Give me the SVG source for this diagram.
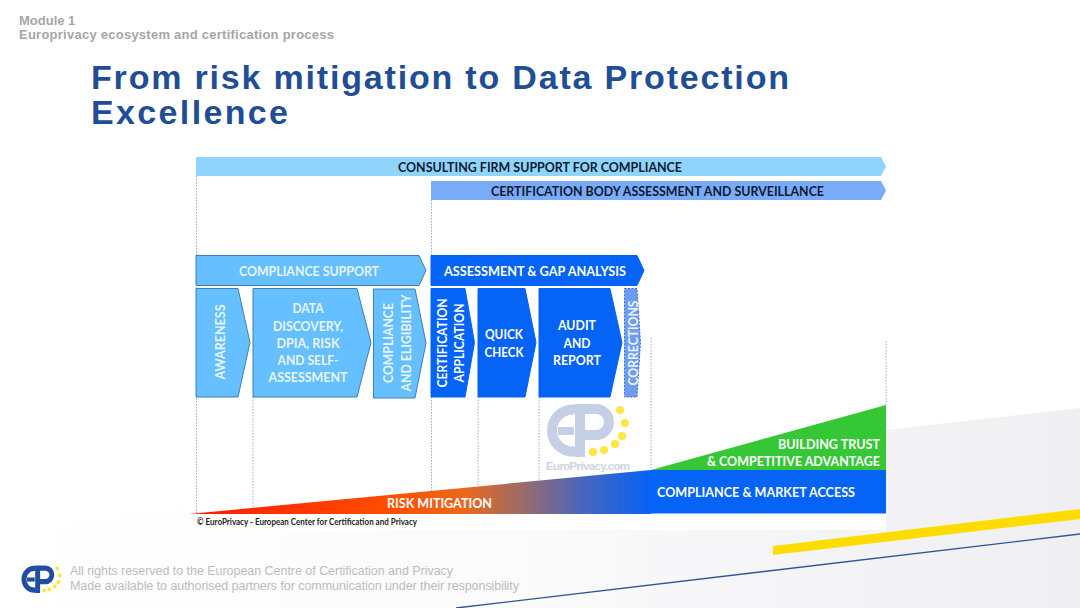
<svg xmlns="http://www.w3.org/2000/svg" xmlns:xlink="http://www.w3.org/1999/xlink" width="1080" height="608" viewBox="0 0 1080 608">
<style>
.l{font-family:Lato,"Open Sans",sans-serif;font-weight:700;font-size:14px}
.w{fill:#fff}.wl{fill:#e8f5ff}.k{fill:#111a33}
.m{text-anchor:middle}.e{text-anchor:end}
.light{fill:#66bfff;stroke:#3f7fb5;stroke-width:1}
.dark{fill:#0563f5;stroke:#0563f5;stroke-width:1}
.dot{fill:none;stroke:#9aa8dc;stroke-width:1;stroke-dasharray:1.5 1.5}
.a{font-family:"Liberation Sans",Arial,sans-serif}
</style>
<defs>
<linearGradient id="bg" x1="0" y1="0" x2="1" y2="0"><stop offset="0" stop-color="#fff"/><stop offset=".45" stop-color="#fbfbfc"/><stop offset="1" stop-color="#efeff1"/></linearGradient>
<linearGradient id="risk" gradientUnits="userSpaceOnUse" x1="189" y1="0" x2="651" y2="0">
<stop offset="0" stop-color="#ff1a00"/><stop offset=".45" stop-color="#ff5000"/><stop offset=".6" stop-color="#e8691f"/><stop offset=".72" stop-color="#9c6c68"/><stop offset=".85" stop-color="#4a66bc"/><stop offset="1" stop-color="#0563f5"/></linearGradient>
<g id="logo"><g fill="none" stroke="currentColor" stroke-width="10"><path d="M30 5.5H27A21 21 0 0 0 27 47.5H30"/><path d="M12 27H28" stroke-width="8"/><path d="M34 0V53M34 5H50A13 13 0 0 1 50 31H39"/></g>
<g fill="#ffe640"><circle cx="74" cy="6" r="4"/><circle cx="79" cy="19" r="4"/><circle cx="76" cy="32" r="4"/><circle cx="69" cy="40" r="4"/><circle cx="58" cy="46" r="4"/><circle cx="47" cy="48" r="4"/></g></g>
</defs>
<rect width="1080" height="608" fill="#fff"/>
<polygon points="0,530 1080,408 1080,608 0,608" fill="url(#bg)"/>
<rect x="189" y="150" width="697" height="380" fill="#fff"/>
<polygon points="773,546 1080,509 1080,519 773,555" fill="#ffdc00"/>
<line x1="456" y1="608" x2="1080" y2="534" stroke="#2f5597" stroke-width="1.4"/>

<g id="header" class="a" font-weight="700">
<text x="19" y="25" font-size="13" fill="#a6a6a6">Module 1</text>
<text x="19" y="39" font-size="13" fill="#a6a6a6" textLength="315">Europrivacy ecosystem and certification process</text>
<text x="91" y="89" font-size="34" fill="#1f4e96" textLength="698">From risk mitigation to Data Protection</text>
<text x="91" y="124" font-size="34" fill="#1f4e96" textLength="197">Excellence</text>
</g>

<g id="connectors">
<path class="dot" d="M196.500 176V513M253 397V507M431.500 200V255M431.500 397V492M478 397V487M539 397V480M651 338V470M886 341V405"/>
</g>

<g id="watermark">
<use xlink:href="#logo" href="#logo" transform="translate(546,404)" color="#c5cfe6"/>
<text class="a" x="546" y="470" font-size="11.500" font-weight="700" fill="#cdd4e4" textLength="84">EuroPrivacy.com</text>
</g>

<g id="consulting-bar"><polygon points="196,157 881,157 886,166.500 881,176 196,176" fill="#8fd5fb"/><text class="l k m" x="540" y="171.500" textLength="284" lengthAdjust="spacingAndGlyphs">CONSULTING FIRM SUPPORT FOR COMPLIANCE</text></g>
<g id="certification-bar"><polygon points="431,181 881,181 886,190.500 881,200 431,200" fill="#7aabf7"/><text class="l k m" x="657.500" y="195.500" textLength="333" lengthAdjust="spacingAndGlyphs">CERTIFICATION BODY ASSESSMENT AND SURVEILLANCE</text></g>

<g id="compliance-support"><polygon class="light" points="196,255.500 419,255.500 426,270.500 419,285.500 196,285.500"/><text class="l wl m" x="309" y="275.500" textLength="140" lengthAdjust="spacingAndGlyphs">COMPLIANCE SUPPORT</text></g>
<g id="assessment-gap"><polygon class="dark" points="431,255.500 637,255.500 644,270.500 637,285.500 431,285.500"/><text class="l w m" x="535" y="275.500" textLength="182" lengthAdjust="spacingAndGlyphs">ASSESSMENT &amp; GAP ANALYSIS</text></g>

<g id="awareness"><polygon class="light" points="196,288.500 238,288.500 250,342.500 238,397 196,397"/><text class="l wl m" transform="translate(225,342) rotate(-90)" textLength="75" lengthAdjust="spacingAndGlyphs">AWARENESS</text></g>
<g id="data-discovery"><polygon class="light" points="253,288.500 357,288.500 371,342.500 357,397 253,397"/>
<text class="l wl m" x="308" y="313" textLength="31" lengthAdjust="spacingAndGlyphs">DATA</text>
<text class="l wl m" x="308" y="330.500" textLength="70" lengthAdjust="spacingAndGlyphs">DISCOVERY,</text>
<text class="l wl m" x="308" y="348" textLength="63" lengthAdjust="spacingAndGlyphs">DPIA, RISK</text>
<text class="l wl m" x="308" y="365" textLength="61" lengthAdjust="spacingAndGlyphs">AND SELF-</text>
<text class="l wl m" x="308" y="382" textLength="79" lengthAdjust="spacingAndGlyphs">ASSESSMENT</text></g>
<g id="compliance-eligibility"><polygon class="light" points="373.500,289 415,289 426,343 415,398 373.500,398"/>
<text class="l wl m" transform="translate(393,343) rotate(-90)" textLength="80" lengthAdjust="spacingAndGlyphs">COMPLIANCE</text>
<text class="l wl m" transform="translate(410.700,343) rotate(-90)" textLength="97" lengthAdjust="spacingAndGlyphs">AND ELIGIBILITY</text></g>
<g id="certification-application"><polygon class="dark" points="431,288.500 465,288.500 474.500,342.500 465,397 431,397"/>
<text class="l w m" transform="translate(446.700,343) rotate(-90)" textLength="89" lengthAdjust="spacingAndGlyphs">CERTIFICATION</text>
<text class="l w m" transform="translate(464,343) rotate(-90)" textLength="79" lengthAdjust="spacingAndGlyphs">APPLICATION</text></g>
<g id="quick-check"><polygon class="dark" points="478,288.500 525,288.500 536,342.500 525,397 478,397"/>
<text class="l w m" x="504" y="339" textLength="38" lengthAdjust="spacingAndGlyphs">QUICK</text>
<text class="l w m" x="504" y="356.700" textLength="39" lengthAdjust="spacingAndGlyphs">CHECK</text></g>
<g id="audit-report"><polygon class="dark" points="539,288.500 610,288.500 622,342.500 610,397 539,397"/>
<text class="l w m" x="577" y="330" textLength="38" lengthAdjust="spacingAndGlyphs">AUDIT</text>
<text class="l w m" x="577" y="347.700" textLength="27" lengthAdjust="spacingAndGlyphs">AND</text>
<text class="l w m" x="577" y="364.700" textLength="48" lengthAdjust="spacingAndGlyphs">REPORT</text></g>
<g id="corrections"><polygon points="624.500,288.500 637,288.500 640.500,342.500 637,397 624.500,397" fill="#6e9cf0" stroke="#3f6fd0" stroke-dasharray="2 1.500"/>
<text class="l wl m" transform="translate(637.500,343) rotate(-90)" textLength="85" lengthAdjust="spacingAndGlyphs">CORRECTIONS</text></g>

<g id="risk-mitigation"><polygon points="189,514 651,470 651,514" fill="url(#risk)"/><text class="l w m" x="439.500" y="507.500" textLength="105" lengthAdjust="spacingAndGlyphs">RISK MITIGATION</text></g>
<g id="market-access"><rect x="651" y="470" width="235" height="43.500" fill="#0563f5"/><text class="l w" x="657" y="496.700" textLength="198" lengthAdjust="spacingAndGlyphs">COMPLIANCE &amp; MARKET ACCESS</text></g>
<g id="competitive-advantage"><polygon points="651,470 886,405 886,470" fill="#36c736"/>
<text class="l w e" x="880" y="449" textLength="102" lengthAdjust="spacingAndGlyphs">BUILDING TRUST</text>
<text class="l w e" x="880" y="466" textLength="173" lengthAdjust="spacingAndGlyphs">&amp; COMPETITIVE ADVANTAGE</text></g>
<text x="197" y="525" font-family="Lato,sans-serif" font-weight="700" font-size="8.500" fill="#222" textLength="220" lengthAdjust="spacingAndGlyphs">© EuroPrivacy - European Center for Certification and Privacy</text>

<g id="footer">
<use xlink:href="#logo" href="#logo" transform="translate(21,565.500) scale(.49,.52)" color="#1f4ea0"/>
<text class="a" x="70" y="575" font-size="12.500" fill="#bcbcbc" textLength="383">All rights reserved to the European Centre of Certification and Privacy</text>
<text class="a" x="70" y="590" font-size="12.500" fill="#bcbcbc" textLength="449">Made available to authorised partners for communication under their responsibility</text>
</g>
</svg>
